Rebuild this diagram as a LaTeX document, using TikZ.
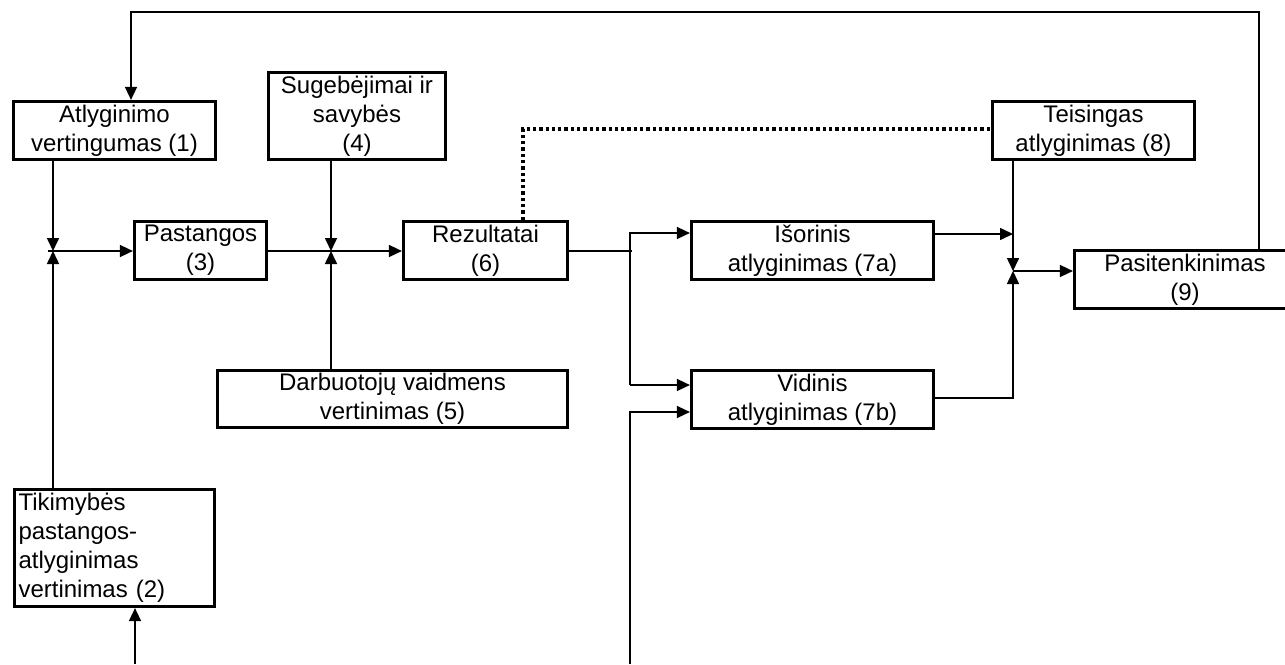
\documentclass[tikz,border=0pt]{standalone}
\usepackage{fontspec}
\setmainfont{Liberation Sans}
\usetikzlibrary{arrows.meta}
\begin{document}
\begin{tikzpicture}[x=1pt,y=-1pt,
  boxline/.style={line width=3.2pt},
  box/.style={draw, boxline, inner sep=0pt, align=center,
    font=\fontsize{24}{29}\selectfont},
  conn/.style={line width=1.6pt},
  arr/.style={conn, -{Triangle[length=13pt,width=12pt]}},
  dots/.style={line width=3.3pt, dash pattern=on 3.3pt off 3pt}]
\useasboundingbox (0,0) rectangle (1285,664);
\clip (0,0) rectangle (1285,664);

% boxes
\node[box, minimum width=202, minimum height=58] (b1) at (114.5,130.5) {Atlyginimo\\vertingumas (1)};
\node[box, minimum width=177, minimum height=87] (b4) at (357,116) {Sugebėjimai ir\\savybės\\(4)};
\node[box, minimum width=132, minimum height=58] (b3) at (200.5,250.5) {Pastangos\\(3)};
\node[box, minimum width=164, minimum height=58] (b6) at (485.5,250.5) {Rezultatai\\(6)};
\node[box, minimum width=350, minimum height=57] (b5) at (392.5,399) {Darbuotojų vaidmens\\vertinimas (5)};
\node[box, align=left, text width=192, inner xsep=4pt, minimum height=117] (b2) at (114.5,548) {Tikimybės\\pastangos-\\atlyginimas\\vertinimas (2)};
\node[box, minimum width=242, minimum height=58] (b7a) at (812.5,250.5) {Išorinis\\atlyginimas (7a)};
\node[box, minimum width=242, minimum height=58] (b7b) at (812.5,399.5) {Vidinis\\atlyginimas (7b)};
\node[box, minimum width=202, minimum height=58] (b8) at (1093.5,130.5) {Teisingas\\atlyginimas (8)};
% satisfaction box runs off the right edge: its frame is open on that side
\node[box, draw=none, outer sep=0pt, minimum width=221, minimum height=58] (b9) at (1185,279.5) {Pasitenkinimas\\(9)};
\draw[boxline] ([xshift=20pt]b9.north east) -- (b9.north west) -- (b9.south west) -- ([xshift=20pt]b9.south east);

% junction points and free ends
\coordinate (j1) at (53,251);
\coordinate (j2) at (331,251);
\coordinate (j3) at (1013,271);
\coordinate (split) at (630,251);
\coordinate (top) at (0,12);
\coordinate (fb) at (1259,0);
\coordinate (fbin) at (131,0);
\coordinate (dotx) at (523,129);
\coordinate (bot2) at (135,664);
\coordinate (bot7) at (630,664);
\coordinate (r7a) at (0,233);
\coordinate (r7b) at (0,385);
\coordinate (s7b) at (0,412);

% inputs to effort
\draw[arr] (b1.south -| j1) -- (j1);
\draw[arr] (b2.north -| j1) -- (j1);
\draw[arr] ([xshift=-5pt]j1) -- (b3.west |- j1);
\draw[arr] (bot2) -- (b2.south -| bot2);

% inputs to results
\draw[conn] (b3.east |- j2) -- (j2);
\draw[arr] (b4.south -| j2) -- (j2);
\draw[arr] (b5.north -| j2) -- (j2);
\draw[arr] (j2) -- (b6.west |- j2);

% results split into rewards
\draw[conn] (b6.east |- split) -- ([xshift=2pt]split);
\draw[arr] (split |- r7b) -- (split |- r7a) -- (b7a.west |- r7a);
\draw[arr] (split |- r7b) -- (b7b.west |- r7b);
\draw[arr] (bot7) -- (bot7 |- s7b) -- (b7b.west |- s7b);

% perceived fairness link
\draw[dots] (b6.north -| dotx) -- (dotx) -- (b8.west |- dotx);

% rewards into satisfaction
\draw[arr] (b7a.east |- 0,234) -- (j3 |- 0,234);
\draw[arr] (b7b.east |- 0,398) -- (j3 |- 0,398) -- (j3);
\draw[arr] (b8.south -| j3) -- (j3);
\draw[arr] (j3) -- ([xshift=-1.6pt]b9.west |- j3);

% feedback loop
\draw[arr] ([yshift=-1.6pt]b9.north -| fb) -- (fb |- top) -- (fbin |- top) -- (b1.north -| fbin);
\end{tikzpicture}
\end{document}
